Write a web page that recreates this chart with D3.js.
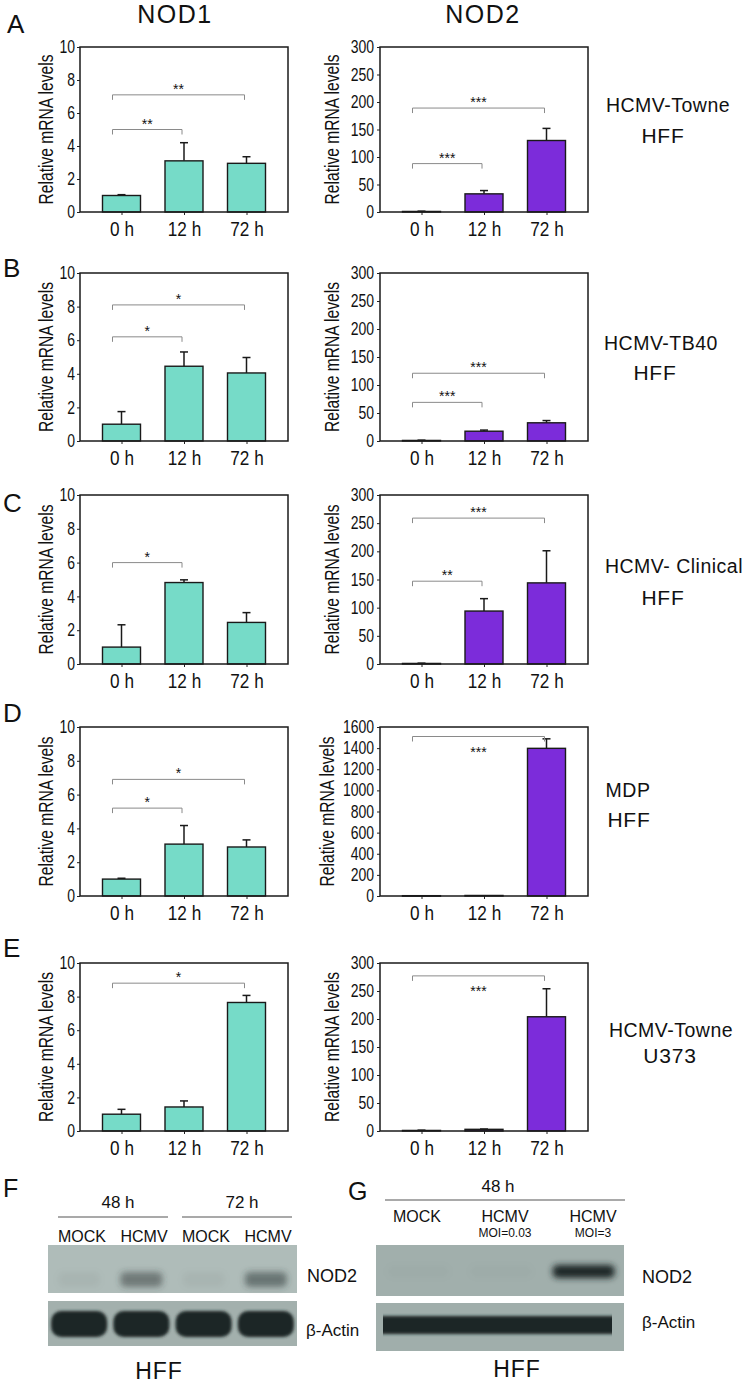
<!DOCTYPE html>
<html><head><meta charset="utf-8">
<script src="https://cdn.jsdelivr.net/npm/d3@7"></script>
<style>
html,body{margin:0;padding:0;background:#fff;}
svg{display:block;}
text{font-family:"Liberation Sans",Arial,Helvetica,sans-serif;fill:#111;}
</style></head><body>
<svg id="fig" width="748" height="1383"></svg>
<script>
// ---------------- DATA ----------------
const categories = ["0 h", "12 h", "72 h"];
const rowLetters = ["A", "B", "C", "D", "E"];
const geneTitles = ["NOD1", "NOD2"];
const yTitle = "Relative mRNA levels";

const nod1Mean = [[1.0, 3.1, 2.95], [1.0, 4.45, 4.05], [1.0, 4.82, 2.46], [1.0, 3.07, 2.9], [1.0, 1.43, 7.65]];
const nod1Err  = [[0.05, 1.1, 0.4], [0.75, 0.85, 0.92], [1.32, 0.16, 0.58], [0.05, 1.1, 0.42], [0.29, 0.36, 0.42]];
const nod1Sig  = [
  [[0, 2, 7.1, "**"], [0, 1, 5.0, "**"]],
  [[0, 2, 8.1, "*"], [0, 1, 6.2, "*"]],
  [[0, 1, 6.0, "*"]],
  [[0, 2, 6.9, "*"], [0, 1, 5.2, "*"]],
  [[0, 2, 8.8, "*"]]
];
const nod1Max = [10, 10, 10, 10, 10];
const nod1Step = [2, 2, 2, 2, 2];

const nod2Mean = [[1, 33, 130], [1, 17.5, 32.5], [1, 94, 144], [3, 5, 1398], [1, 3, 204]];
const nod2Err  = [[0.5, 6, 22], [0.5, 2, 4], [0.5, 22, 57], [0, 0, 90], [0.5, 0.5, 50]];
const nod2Sig  = [
  [[0, 2, 189, "***"], [0, 1, 88, "***"]],
  [[0, 2, 121, "***"], [0, 1, 69, "***"]],
  [[0, 2, 259, "***"], [0, 1, 147, "**"]],
  [[0, 2, 1510, "***"]],
  [[0, 2, 277, "***"]]
];
const nod2Max = [300, 300, 300, 1600, 300];
const nod2Step = [50, 50, 50, 200, 50];

const sideLine1 = ["HCMV-Towne", "HCMV-TB40", "HCMV- Clinical", "MDP", "HCMV-Towne"];
const sideLine2 = ["HFF", "HFF", "HFF", "HFF", "U373"];

// Western blots
const blotFLanes = ["MOCK", "HCMV", "MOCK", "HCMV"];
const blotFGroups = ["48 h", "72 h"];
const blotFNod2 = [0.04, 0.5, 0.04, 0.55];
const blotFActin = [1, 1, 1, 1];
const blotGLanes = ["MOCK", "HCMV", "HCMV"];
const blotGMoi = ["", "MOI=0.03", "MOI=3"];
const blotGGroup = "48 h";
const blotGNod2 = [0.02, 0.02, 1];
const blotGActin = [1, 1, 1];
const blotRowLabels = ["NOD2", "β-Actin"];
const cellLine = "HFF";
const blotLetters = ["F", "G"];

// ---------------- LAYOUT ----------------
const svg = d3.select("#fig");
const rowTop = [47, 273, 495, 727, 963];
const rowBot = [212, 441, 664, 896, 1131];
const colX = [[80, 288], [380, 588]];
const colors = ["#76dbc8", "#7c2cda"];
const letterPos = [[7, 33], [3, 277], [3, 512], [3, 722], [3, 957]];
const side1Pos = [[668, 112], [661, 350], [674, 573], [628, 797], [671, 1037]];
const side2Pos = [[663, 143], [655, 380], [663, 605], [629, 827], [670, 1063]];
const nod2Below = [false, false, false, true, true];
const nod2TitleOff = [48, 48, 48, 53, 48];
const NARROW = 0.80;

function drawChart(g, o) {
  const x = d3.scalePoint().domain(categories).range([o.x0, o.x1]).padding(0.664);
  const y = d3.scaleLinear().domain([0, o.ymax]).range([o.bot, o.top]);
  const bw = 38;

  const ya = g.append("g").attr("transform", `translate(${o.x0},0)`)
    .call(d3.axisLeft(y).tickValues(d3.range(0, o.ymax + o.step / 2, o.step)).tickSize(3).tickPadding(o.pad).tickFormat(d3.format("d")));
  ya.select(".domain").remove();
  ya.selectAll("line").attr("stroke", "#222");
  ya.selectAll("text").attr("x", 0).attr("transform", `translate(${-(3 + o.pad)},0) scale(${NARROW},1)`)
    .style("font-size", "17.5px").attr("fill", "#111");

  const xa = g.append("g").attr("transform", `translate(0,${o.bot})`)
    .call(d3.axisBottom(x).tickSize(3).tickPadding(7));
  xa.select(".domain").remove();
  xa.selectAll("line").attr("stroke", "#222");
  xa.selectAll("text").attr("transform", `scale(${0.86},1)`).style("font-size", "20px").attr("fill", "#111");

  const data = categories.map((c, i) => ({c, m: o.mean[i], e: o.err[i]}));
  g.selectAll(".err").data(data).join("g").each(function (d) {
    const cx = x(d.c);
    if (d.e > 0) {
      d3.select(this).append("line").attr("x1", cx).attr("x2", cx).attr("y1", y(d.m)).attr("y2", y(d.m + d.e))
        .attr("stroke", "#1a1a1a").attr("stroke-width", 1.5);
      d3.select(this).append("line").attr("x1", cx - 4).attr("x2", cx + 4).attr("y1", y(d.m + d.e)).attr("y2", y(d.m + d.e))
        .attr("stroke", "#1a1a1a").attr("stroke-width", 1.5);
    }
  });
  g.selectAll(".bar").data(data).join("rect")
    .attr("x", d => x(d.c) - bw / 2).attr("width", bw)
    .attr("y", d => y(d.m)).attr("height", d => Math.max(0.5, o.bot - y(d.m)))
    .attr("fill", o.color).attr("stroke", "#1a1a1a").attr("stroke-width", 1.4);

  g.append("rect").attr("x", o.x0).attr("y", o.top).attr("width", o.x1 - o.x0).attr("height", o.bot - o.top)
    .attr("fill", "none").attr("stroke", "#1a1a1a").attr("stroke-width", 1.5);

  o.sig.forEach(s => {
    const xa0 = x(categories[s[0]]) - 9, xa1 = x(categories[s[1]]) - 2, yy = y(s[2]);
    g.append("path").attr("d", `M${xa0},${yy + 5}V${yy}H${xa1}V${yy + 5}`)
      .attr("fill", "none").attr("stroke", "#8a8a8a").attr("stroke-width", 1);
    g.append("text").attr("x", (xa0 + xa1) / 2).attr("y", o.below ? yy + 20 : yy - 1)
      .attr("text-anchor", "middle").style("font-size", "14px").text(s[3]);
  });

  g.append("text")
    .attr("transform", `translate(${o.x0 - o.titleOff},${(o.top + o.bot) / 2}) rotate(-90) scale(${NARROW},1)`)
    .attr("text-anchor", "middle").attr("dominant-baseline", "central")
    .style("font-size", "19.5px").text(yTitle);
}

// titles
svg.append("text").attr("x", 175).attr("y", 23).attr("text-anchor", "middle")
  .style("font-size", "25px").style("letter-spacing", "1.5px").text(geneTitles[0]);
svg.append("text").attr("x", 483).attr("y", 23).attr("text-anchor", "middle")
  .style("font-size", "25px").style("letter-spacing", "1.5px").text(geneTitles[1]);

for (let r = 0; r < 5; r++) {
  svg.append("text").attr("x", letterPos[r][0]).attr("y", letterPos[r][1]).style("font-size", "26px").text(rowLetters[r]);
  drawChart(svg.append("g"), {x0: colX[0][0], x1: colX[0][1], top: rowTop[r], bot: rowBot[r],
    mean: nod1Mean[r], err: nod1Err[r], ymax: nod1Max[r], step: nod1Step[r], sig: nod1Sig[r],
    color: colors[0], below: false, titleOff: 34, pad: 2});
  drawChart(svg.append("g"), {x0: colX[1][0], x1: colX[1][1], top: rowTop[r], bot: rowBot[r],
    mean: nod2Mean[r], err: nod2Err[r], ymax: nod2Max[r], step: nod2Step[r], sig: nod2Sig[r],
    color: colors[1], below: nod2Below[r], titleOff: nod2TitleOff[r], pad: 3});
  svg.append("text").attr("x", side1Pos[r][0]).attr("y", side1Pos[r][1]).attr("text-anchor", "middle")
    .style("font-size", "19.5px").style("letter-spacing", "0.5px").text(sideLine1[r]);
  svg.append("text").attr("x", side2Pos[r][0]).attr("y", side2Pos[r][1]).attr("text-anchor", "middle")
    .style("font-size", "21px").style("letter-spacing", "0.8px").text(sideLine2[r]);
}

// ---------------- BLOTS ----------------
const defs = svg.append("defs");
defs.append("filter").attr("id", "blurS").attr("x", "-30%").attr("y", "-80%").attr("width", "160%").attr("height", "260%")
  .append("feGaussianBlur").attr("stdDeviation", 1.6);
defs.append("filter").attr("id", "blurL").attr("x", "-30%").attr("y", "-80%").attr("width", "160%").attr("height", "260%")
  .append("feGaussianBlur").attr("stdDeviation", 3);

svg.append("text").attr("x", 3).attr("y", 1197).style("font-size", "25px").text(blotLetters[0]);
svg.append("text").attr("x", 348).attr("y", 1200).style("font-size", "25px").text(blotLetters[1]);

// Panel F
{
  const lane = d3.scaleBand().domain(d3.range(blotFLanes.length)).range([48, 297]);
  const cx = i => lane(i) + lane.bandwidth() / 2;
  const lbl = d3.scalePoint().domain(d3.range(blotFLanes.length)).range([82, 268]);
  blotFGroups.forEach((gname, k) => {
    const a = lbl(2 * k) - 24, b = lbl(2 * k + 1) + 24;
    svg.append("line").attr("x1", a).attr("x2", b).attr("y1", 1217).attr("y2", 1217).attr("stroke", "#555").attr("stroke-width", 1.2);
    svg.append("text").attr("x", (a + b) / 2 + 5).attr("y", 1208).attr("text-anchor", "middle").style("font-size", "17px").text(gname);
  });
  blotFLanes.forEach((t, i) => svg.append("text").attr("x", lbl(i)).attr("y", 1242).attr("text-anchor", "middle").style("font-size", "16px").text(t));
  svg.append("rect").attr("x", 48).attr("y", 1245).attr("width", 249).attr("height", 48).attr("fill", "#afbcb9");
  svg.append("g").attr("filter", "url(#blurL)").selectAll("rect").data(blotFNod2).join("rect")
    .attr("x", (d, i) => cx(i) - 21).attr("width", 42).attr("y", 1272).attr("height", 15).attr("rx", 5)
    .attr("fill", "#2f3a38").attr("opacity", d => d);
  svg.append("rect").attr("x", 48).attr("y", 1301).attr("width", 249).attr("height", 45).attr("fill", "#a3b0ad");
  svg.append("g").attr("filter", "url(#blurS)").selectAll("rect").data(blotFActin).join("rect")
    .attr("x", (d, i) => cx(i) - 28).attr("width", 56).attr("y", 1311).attr("height", 26).attr("rx", 10)
    .attr("fill", "#1e2725").attr("opacity", d => d);
  svg.append("text").attr("x", 307).attr("y", 1276).attr("dominant-baseline", "central").style("font-size", "18px").text(blotRowLabels[0]);
  svg.append("text").attr("x", 306).attr("y", 1330).attr("dominant-baseline", "central").style("font-size", "17px").text(blotRowLabels[1]);
  svg.append("text").attr("x", 159).attr("y", 1379).attr("text-anchor", "middle").style("font-size", "23px").style("letter-spacing", "1px").text(cellLine);
}

// Panel G
{
  const lane = d3.scaleBand().domain(d3.range(blotGLanes.length)).range([376, 624]);
  const step = lane.step();
  const cx = i => lane(i) + lane.bandwidth() / 2;
  const lbl = d3.scalePoint().domain(d3.range(blotGLanes.length)).range([417, 593]);
  svg.append("line").attr("x1", 385).attr("x2", 625).attr("y1", 1200).attr("y2", 1200).attr("stroke", "#555").attr("stroke-width", 1.2);
  svg.append("text").attr("x", 498).attr("y", 1192).attr("text-anchor", "middle").style("font-size", "17px").text(blotGGroup);
  blotGLanes.forEach((t, i) => {
    svg.append("text").attr("x", lbl(i)).attr("y", 1222).attr("text-anchor", "middle").style("font-size", "16px").text(t);
    svg.append("text").attr("x", lbl(i)).attr("y", 1237).attr("text-anchor", "middle").style("font-size", "12px").text(blotGMoi[i]);
  });
  svg.append("rect").attr("x", 376).attr("y", 1245).attr("width", 248).attr("height", 51).attr("fill", "#a1afac");
  svg.append("g").attr("filter", "url(#blurL)").selectAll("rect").data(blotGNod2).join("rect")
    .attr("x", (d, i) => cx(i) - 30).attr("width", 62).attr("y", 1265).attr("height", 13).attr("rx", 5)
    .attr("fill", "#1f2826").attr("opacity", d => d);
  svg.append("rect").attr("x", 376).attr("y", 1303).attr("width", 248).attr("height", 48).attr("fill", "#a0aeab");
  defs.append("clipPath").attr("id", "gclip").append("rect").attr("x", 383).attr("y", 1300).attr("width", 229).attr("height", 55).attr("rx", 8);
  svg.append("g").attr("clip-path", "url(#gclip)").append("g").attr("filter", "url(#blurS)")
    .selectAll("rect").data(blotGActin).join("rect")
    .attr("x", (d, i) => lane(i) - 1).attr("width", step + 2).attr("y", 1316).attr("height", 18)
    .attr("fill", "#1e2725").attr("opacity", d => d);
  svg.append("text").attr("x", 642).attr("y", 1277).attr("dominant-baseline", "central").style("font-size", "18px").text(blotRowLabels[0]);
  svg.append("text").attr("x", 642).attr("y", 1322).attr("dominant-baseline", "central").style("font-size", "17px").text(blotRowLabels[1]);
  svg.append("text").attr("x", 517).attr("y", 1377).attr("text-anchor", "middle").style("font-size", "23px").style("letter-spacing", "1px").text(cellLine);
}
</script>
</body></html>
